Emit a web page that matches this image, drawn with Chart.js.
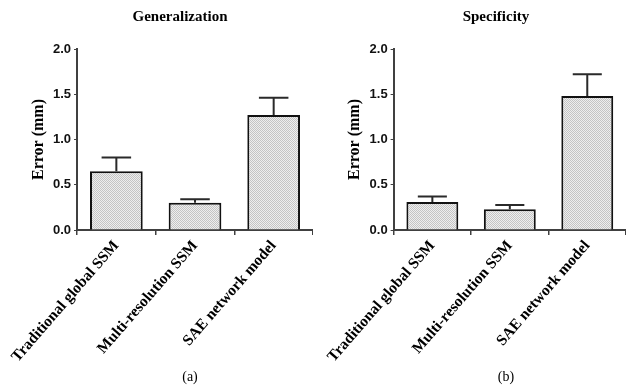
<!DOCTYPE html>
<html>
<head>
<meta charset="utf-8">
<script src="https://cdn.jsdelivr.net/npm/chart.js@4.4.1/dist/chart.umd.min.js"></script>
<style>
  body { margin: 0; background: #fff; }
  #wrap { position: relative; width: 626px; height: 389px; background: #fff; overflow: hidden; }
  canvas { position: absolute; top: 0; }
</style>
</head>
<body>
<div id="wrap">
  <canvas id="chartA" width="313" height="389" style="left:0"></canvas>
  <canvas id="chartB" width="310" height="389" style="left:316px"></canvas>
</div>
<script>
// categories shared by both panels
const methods = ['Traditional global SSM', 'Multi-resolution SSM', 'SAE network model'];

// (a) Generalization: mean error and upper error bar (mm)
const generalizationMean = [0.65, 0.30, 1.27];
const generalizationErr = [0.15, 0.04, 0.19];

// (b) Specificity
const specificityMean = [0.31, 0.23, 1.48];
const specificityErr = [0.06, 0.045, 0.24];

const yTicks = [0, 0.5, 1.0, 1.5, 2.0];

const axisColor = '#404040';
const serif = "'Liberation Serif', 'DejaVu Serif', serif";
const sans = "'Liberation Sans', Arial, sans-serif";

// light dotted gray fill like the original
function dotPattern() {
    const c = document.createElement('canvas');
    c.width = 2; c.height = 2;
    const g = c.getContext('2d');
    g.fillStyle = '#eeeeee';
    g.fillRect(0, 0, 2, 2);
    g.fillStyle = '#c4c4c4';
    g.fillRect(0, 0, 1, 1);
    g.fillRect(1, 1, 1, 1);
    return g.createPattern(c, 'repeat');
}

// draws the upward-only error bars
const errorBars = {
    id: 'errorBars',
    afterDatasetsDraw(chart, args, opts) {
        const ctx = chart.ctx;
        const yScale = chart.scales.y;
        const meta = chart.getDatasetMeta(0);
        const ds = chart.data.datasets[0];
        ctx.save();
        ctx.strokeStyle = '#2a2a2a';
        ctx.lineWidth = 2;
        meta.data.forEach((bar, i) => {
            const top = yScale.getPixelForValue(ds.data[i] + opts.errors[i]);
            const half = bar.width * 0.28;
            ctx.beginPath();
            ctx.moveTo(bar.x, bar.y);
            ctx.lineTo(bar.x, top);
            ctx.moveTo(bar.x - half, top);
            ctx.lineTo(bar.x + half, top);
            ctx.stroke();
        });
        ctx.restore();
    }
};

// panel title and (a)/(b) caption
const panelText = {
    id: 'panelText',
    afterDraw(chart, args, opts) {
        const ctx = chart.ctx;
        ctx.save();
        ctx.fillStyle = '#000';
        ctx.textAlign = 'center';
        ctx.textBaseline = 'middle';
        ctx.font = 'bold 15px ' + serif;
        ctx.fillText(opts.title, opts.x, 17);
        ctx.font = '14px ' + serif;
        ctx.fillText(opts.caption, opts.x + 10, 377);
        ctx.restore();
    }
};

function makeChart(id, title, caption, means, errs) {
    const canvas = document.getElementById(id);
    return new Chart(canvas, {
        type: 'bar',
        data: {
            labels: methods,
            datasets: [{
                data: means,
                backgroundColor: dotPattern(),
                borderColor: '#111',
                borderWidth: 2,
                borderSkipped: 'bottom',
                categoryPercentage: 1.0,
                barPercentage: 0.67
            }]
        },
        options: {
            responsive: false,
            animation: false,
            layout: { padding: { top: 49, left: 0, right: 0, bottom: 0 } },
            plugins: {
                legend: { display: false },
                tooltip: { enabled: false },
                errorBars: { errors: errs },
                panelText: { title: title, caption: caption, x: 180 }
            },
            scales: {
                x: {
                    offset: true,
                    afterFit: s => { s.height = 389 - 230; },
                    border: { display: true, color: axisColor, width: 2 },
                    grid: { drawOnChartArea: false, tickLength: 5, color: axisColor, lineWidth: 1.5 },
                    ticks: {
                        maxRotation: 49, minRotation: 49, padding: 2,
                        color: '#000',
                        font: { family: serif, size: 15.5, weight: 'bold' }
                    }
                },
                y: {
                    min: 0, max: 2,
                    afterFit: s => { s.width = 77; },
                    afterBuildTicks: s => { s.ticks = yTicks.map(v => ({ value: v })); },
                    border: { display: true, color: axisColor, width: 2 },
                    grid: { drawOnChartArea: false, tickLength: 3, color: axisColor, lineWidth: 1 },
                    ticks: {
                        padding: 3,
                        color: '#111',
                        font: { family: sans, size: 13, weight: 'bold' },
                        callback: v => Number(v).toFixed(1)
                    },
                    title: {
                        display: true,
                        text: 'Error (mm)',
                        color: '#000',
                        font: { family: serif, size: 16, weight: 'bold' },
                        padding: { top: 29, bottom: 0 }
                    }
                }
            }
        },
        plugins: [errorBars, panelText]
    });
}

makeChart('chartA', 'Generalization', '(a)', generalizationMean, generalizationErr);
makeChart('chartB', 'Specificity', '(b)', specificityMean, specificityErr);
</script>
</body>
</html>
